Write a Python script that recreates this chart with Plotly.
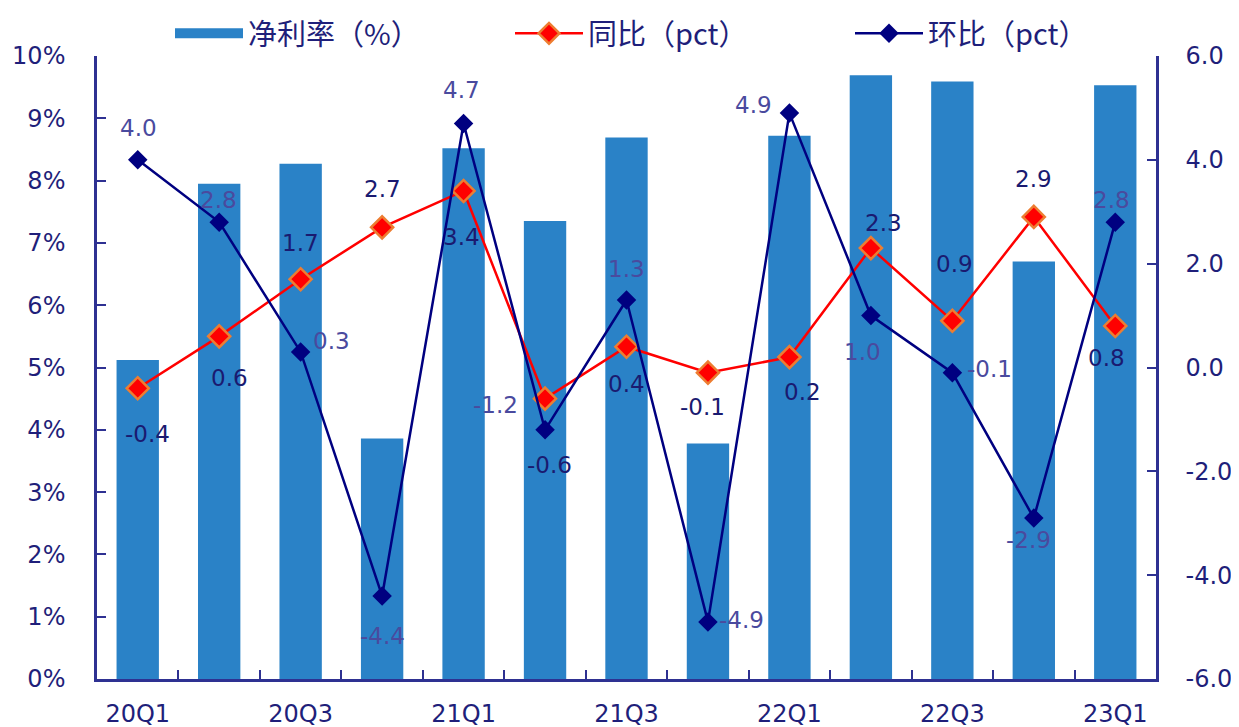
import plotly.graph_objects as go

categories = ["20Q1", "20Q2", "20Q3", "20Q4", "21Q1", "21Q2", "21Q3", "21Q4",
              "22Q1", "22Q2", "22Q3", "22Q4", "23Q1"]
net_margin = [5.12, 7.95, 8.27, 3.86, 8.52, 7.35, 8.69, 3.78, 8.72, 9.69, 9.59, 6.70, 9.53]
yoy = [-0.4, 0.6, 1.7, 2.7, 3.4, -0.6, 0.4, -0.1, 0.2, 2.3, 0.9, 2.9, 0.8]
qoq = [4.0, 2.8, 0.3, -4.4, 4.7, -1.2, 1.3, -4.9, 4.9, 1.0, -0.1, -2.9, 2.8]
right_ticks = [-6, -4, -2, 0, 2, 4, 6]

# label offsets in pixels (dx right, dy down) relative to each point
yoy_dx = [10, 10, 0, 0, -2, 4, 0, -5, 13, 13, 2, 0, -9]
yoy_dy = [46, 42, -36, -38, 46, 66, 37, 34, 35, -25, -57, -38, 32]
qoq_dx = [1, -1, 31, 0, -2, -50, 0, 34, -36, -8, 37, -5, -4]
qoq_dy = [-32, -22, -11, 40, -33, -25, -31, -2, -8, 36, -4, 22, -22]

xtick_text = [c if i % 2 == 0 else "" for i, c in enumerate(categories)]

AXIS = "#2E3192"
TXT = "#1F1F7A"
FONT = "DejaVu Sans"

# the page body adds an 8px offset; size the figure so the plot lands where the original is
W, H = 1231, 719

fig = go.Figure()
fig.add_trace(go.Bar(
    x=categories, y=net_margin, name="净利率（%）", showlegend=False,
    marker=dict(color="#2A82C7", line=dict(width=0)),
))
# legend entry for the bars drawn as a wide block like the original
fig.add_trace(go.Scatter(
    x=[None], y=[None], name="净利率（%）", mode="lines",
    line=dict(color="#2A82C7", width=15),
))
fig.add_trace(go.Scatter(
    x=categories, y=yoy, name="同比（pct）", yaxis="y2",
    mode="lines+markers",
    line=dict(color="#FF0000", width=2.5),
    marker=dict(symbol="diamond", size=17, color="#FF0000",
                line=dict(color="#ED7D31", width=2.5)),
))
fig.add_trace(go.Scatter(
    x=categories, y=qoq, name="环比（pct）", yaxis="y2",
    mode="lines+markers",
    line=dict(color="#000080", width=2.5),
    marker=dict(symbol="diamond", size=15, color="#000080"),
))

annotations = []
for c, v, dx, dy in zip(categories, yoy, yoy_dx, yoy_dy):
    annotations.append(dict(x=c, y=v, xref="x", yref="y2", text=f"{v:.1f}",
                            showarrow=False, xshift=dx, yshift=-dy,
                            font=dict(family=FONT, size=23, color="#1A1A70")))
for c, v, dx, dy in zip(categories, qoq, qoq_dx, qoq_dy):
    annotations.append(dict(x=c, y=v, xref="x", yref="y2", text=f"{v:.1f}",
                            showarrow=False, xshift=dx, yshift=-dy,
                            font=dict(family=FONT, size=23, color="#4A4A9E")))

fig.update_layout(
    width=W, height=H,
    margin=dict(l=89, r=83, t=48, b=48, autoexpand=False),
    paper_bgcolor="white", plot_bgcolor="white",
    bargap=0.48,
    font=dict(family=FONT, size=23, color=TXT),
    showlegend=True,
    annotations=annotations,
    legend=dict(orientation="h", xref="container", yref="container",
                x=162 / W, xanchor="left", y=1.0, yanchor="top",
                font=dict(family="Noto Sans CJK SC", size=29, color=TXT),
                entrywidth=257, itemwidth=68, bgcolor="rgba(0,0,0,0)"),
    xaxis=dict(
        type="category", tickmode="array", tickvals=categories, ticktext=xtick_text,
        range=[-0.5, len(categories) - 0.5],
        tickson="boundaries", ticks="inside", ticklen=9, tickwidth=2, tickcolor=AXIS,
        showline=True, linecolor=AXIS, linewidth=2.5, showgrid=False, automargin=False,
        tickfont=dict(family=FONT, size=24, color=TXT), ticklabelstandoff=11,
    ),
    yaxis=dict(
        range=[0, 10], dtick=1, ticksuffix="%", ticks="inside", ticklen=9, tickwidth=2,
        tickcolor=AXIS, showline=True, linecolor=AXIS, linewidth=2.5, showgrid=False,
        zeroline=False, automargin=False,
        tickfont=dict(family=FONT, size=24, color=TXT), ticklabelstandoff=24,
    ),
    yaxis2=dict(
        overlaying="y", side="right", range=[-6, 6], tickmode="array",
        tickvals=right_ticks, ticktext=[f"{v:.1f}" for v in right_ticks],
        ticks="inside", ticklen=9, tickwidth=2, tickcolor=AXIS, showline=True,
        linecolor=AXIS, linewidth=2.5, showgrid=False, zeroline=False, automargin=False,
        tickfont=dict(family=FONT, size=24, color=TXT), ticklabelstandoff=22,
    ),
)

fig.write_html("out.html")
